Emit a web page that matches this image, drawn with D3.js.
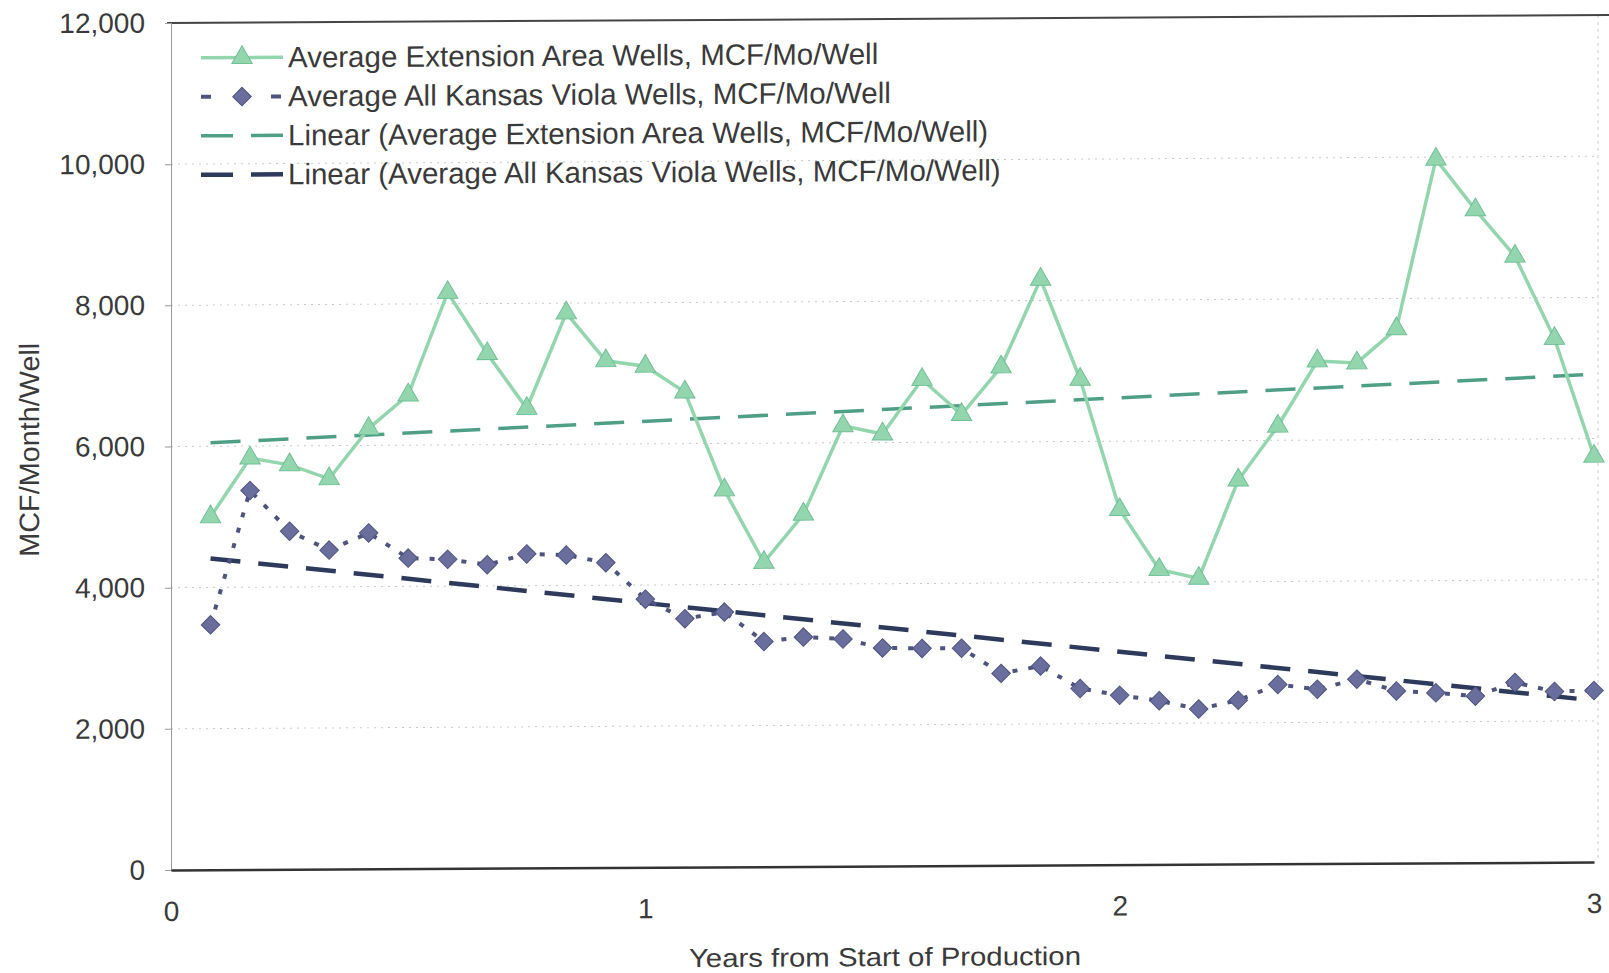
<!DOCTYPE html>
<html><head><meta charset="utf-8">
<script src="https://cdn.jsdelivr.net/npm/d3@7"></script>
<style>
html,body{margin:0;padding:0;background:#fff;}
svg{display:block;font-family:"Liberation Sans",Arial,sans-serif;}
</style></head>
<body>
<svg id="chart" width="1609" height="973"></svg>
<script>
// months 1..36 from start of production
const months = d3.range(1, 37);
const extensionWells = [5000,5830,5730,5530,6240,6710,8160,7290,6510,7860,7180,7100,6730,5340,4310,4990,6240,6120,6890,6390,7060,8300,6880,5030,4180,4050,5440,6200,7120,7090,7570,9970,9250,8590,7420,5750];
const kansasViolaWells = [3470,5370,4790,4520,4760,4400,4380,4300,4450,4430,4320,3800,3520,3610,3190,3250,3220,3090,3080,3080,2720,2820,2500,2400,2320,2200,2320,2540,2470,2610,2440,2410,2360,2550,2420,2430];
// linear trendline end values (as drawn in the original), at first and last month
const trendMonths = [1, 36];
const extensionTrend = [6050, 6910];
const kansasViolaTrend = [4410, 2290];
const yTicks = [0,2000,4000,6000,8000,10000,12000];
const xTicks = [0,1,2,3];
const legendLabels = [
  "Average Extension Area Wells, MCF/Mo/Well",
  "Average All Kansas Viola Wells, MCF/Mo/Well",
  "Linear (Average Extension Area Wells, MCF/Mo/Well)",
  "Linear (Average All Kansas Viola Wells, MCF/Mo/Well)"
];
const xTitle = "Years from Start of Production";
const yTitle = "MCF/Month/Well";

const C = {green:"#93d6ad", greenEdge:"#6fbf97", greenTrend:"#4f9f86", blue:"#6a6e9c", blueEdge:"#4f547f", blueTrend:"#2d3a5c", grid:"#c9c9c9", text:"#3a3a3a"};

const svg = d3.select("#chart");
const L = 171, R = 1594, T = 23, B = 870;
const x = d3.scaleLinear().domain([0,3]).range([L,R]);
const y = d3.scaleLinear().domain([0,12000]).range([B,T]);
const yr = m => m/12;

// slight scan tilt of the original
const root = svg.append("g").attr("transform",`translate(${L},0) skewY(-0.32) translate(${-L},0)`);

// gridlines
root.append("g").selectAll("line").data(yTicks.filter(d=>d>0 && d<12000)).join("line")
  .attr("x1", L).attr("x2", R).attr("y1", d=>y(d)).attr("y2", d=>y(d))
  .attr("stroke", C.grid).attr("stroke-width",1).attr("stroke-dasharray","2,5");

// right border dashed
root.append("line").attr("x1", R+4).attr("x2", R+4).attr("y1", T).attr("y2", B)
  .attr("stroke","#ccc").attr("stroke-dasharray","3,4");
// top border
root.append("line").attr("x1", L-4).attr("x2", 1612).attr("y1", T).attr("y2", T)
  .attr("stroke", "#444").attr("stroke-width", 2);

// y axis
const yAxis = root.append("g").attr("transform",`translate(${L},0)`)
  .call(d3.axisLeft(y).tickValues(yTicks).tickFormat(d3.format(",")).tickSize(6).tickPadding(20));
yAxis.select(".domain").attr("stroke","#999");
yAxis.selectAll(".tick line").attr("stroke","#999");
yAxis.selectAll("text").attr("font-size",28).attr("fill",C.text).attr("font-family","Liberation Sans, Arial, sans-serif");

// x axis
const xAxis = root.append("g").attr("transform",`translate(0,${B})`)
  .call(d3.axisBottom(x).tickValues(xTicks).tickFormat(d3.format("d")).tickSize(0).tickPadding(31));
xAxis.select(".domain").attr("stroke","#333").attr("stroke-width",2.5);
xAxis.selectAll("text").attr("font-size",28).attr("fill",C.text).attr("font-family","Liberation Sans, Arial, sans-serif");

// titles
root.append("text").attr("x", 885).attr("y", 970).attr("text-anchor","middle")
  .attr("font-size",26).attr("fill",C.text)
  .attr("textLength",392).attr("lengthAdjust","spacingAndGlyphs").text(xTitle);
root.append("text").attr("transform",`translate(39,449) rotate(-90)`).attr("text-anchor","middle")
  .attr("font-size",28).attr("fill",C.text)
  .attr("textLength",214).attr("lengthAdjust","spacingAndGlyphs").text(yTitle);

// trend lines
root.append("line").attr("x1",x(yr(trendMonths[0]))).attr("x2",x(yr(trendMonths[1])))
  .attr("y1",y(extensionTrend[0])).attr("y2",y(extensionTrend[1]))
  .attr("stroke",C.greenTrend).attr("stroke-width",3.5).attr("stroke-dasharray","30,18");
root.append("line").attr("x1",x(yr(trendMonths[0]))).attr("x2",x(yr(trendMonths[1])))
  .attr("y1",y(kansasViolaTrend[0])).attr("y2",y(kansasViolaTrend[1]))
  .attr("stroke",C.blueTrend).attr("stroke-width",4.5).attr("stroke-dasharray","30,18");

const line = d3.line().x((d,i)=>x(yr(months[i]))).y(d=>y(d));

// blue series
root.append("path").datum(kansasViolaWells).attr("d",line).attr("fill","none")
  .attr("stroke",C.blueEdge).attr("stroke-width",4).attr("stroke-dasharray","5,11");
const diamond = d3.symbol().type(d3.symbolDiamond2).size(220);
root.append("g").selectAll("path").data(kansasViolaWells).join("path")
  .attr("d", diamond).attr("transform",(d,i)=>`translate(${x(yr(months[i]))},${y(d)})`)
  .attr("fill",C.blue).attr("stroke",C.blueEdge).attr("stroke-width",1);

// green series
root.append("path").datum(extensionWells).attr("d",line).attr("fill","none")
  .attr("stroke",C.green).attr("stroke-width",3.5);
const tri = d3.symbol().type(d3.symbolTriangle).size(180);
root.append("g").selectAll("path").data(extensionWells).join("path")
  .attr("d", tri).attr("transform",(d,i)=>`translate(${x(yr(months[i]))},${y(d)})`)
  .attr("fill",C.green).attr("stroke",C.greenEdge).attr("stroke-width",1);

// legend
const lg = root.append("g");
const rowY = [58, 97, 136, 175];
const sx0 = 201, sx1 = 283, sxm = 242;
lg.append("line").attr("x1",sx0).attr("x2",sx1).attr("y1",rowY[0]).attr("y2",rowY[0]).attr("stroke",C.green).attr("stroke-width",3.5);
lg.append("path").attr("d",tri).attr("transform",`translate(${sxm},${rowY[0]})`).attr("fill",C.green).attr("stroke",C.greenEdge);
lg.append("line").attr("x1",sx0).attr("x2",sx0+10).attr("y1",rowY[1]).attr("y2",rowY[1]).attr("stroke",C.blueEdge).attr("stroke-width",4);
lg.append("line").attr("x1",sx1-12).attr("x2",sx1-2).attr("y1",rowY[1]).attr("y2",rowY[1]).attr("stroke",C.blueEdge).attr("stroke-width",4);
lg.append("path").attr("d",diamond).attr("transform",`translate(${sxm},${rowY[1]})`).attr("fill",C.blue).attr("stroke",C.blueEdge);
[[rowY[2],C.greenTrend,3.5],[rowY[3],C.blueTrend,4.5]].forEach(([yy,c,w])=>{
  lg.append("line").attr("x1",sx0).attr("x2",sx0+32).attr("y1",yy).attr("y2",yy).attr("stroke",c).attr("stroke-width",w);
  lg.append("line").attr("x1",sx1-32).attr("x2",sx1).attr("y1",yy).attr("y2",yy).attr("stroke",c).attr("stroke-width",w);
});
lg.selectAll("text.lab").data(legendLabels).join("text").attr("class","lab")
  .attr("x", 288).attr("y",(d,i)=>rowY[i]+10).attr("font-size",29.5).attr("fill",C.text).text(d=>d);
</script>
</body></html>
